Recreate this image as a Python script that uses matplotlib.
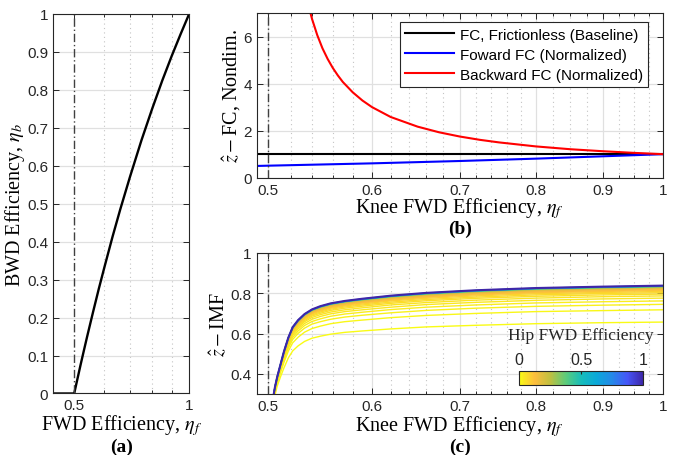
import numpy as np
import matplotlib
matplotlib.use("Agg")
import matplotlib.pyplot as plt
from matplotlib.colors import LinearSegmentedColormap, Normalize
from matplotlib.ticker import NullFormatter
import matplotlib.cm as cm

plt.rcParams["font.family"] = ["Liberation Sans", "DejaVu Sans"]
plt.rcParams["mathtext.fontset"] = "stix"

# --- data ---
cutoff_eta = 0.5

# (a) BWD efficiency vs FWD efficiency
fwd_eta_a = [0.44, 0.5, 0.51, 0.52, 0.53, 0.54, 0.56, 0.58, 0.6, 0.63, 0.66,
             0.7, 0.75, 0.8, 0.85, 0.9, 0.95, 1.0]
bwd_eta_a = [0.0, 0.0, 0.039, 0.077, 0.113, 0.148, 0.214, 0.276, 0.333, 0.413,
             0.485, 0.571, 0.667, 0.75, 0.824, 0.889, 0.947, 1.0]

# (b) force capacity
knee_eta_b = [0.49, 0.6, 0.7, 0.8, 0.9, 1.0]
fc_base = [1.0, 1.0, 1.0, 1.0, 1.0, 1.0]
fc_fwd = [0.50, 0.61, 0.71, 0.81, 0.91, 1.0]
knee_eta_red = [0.537, 0.54, 0.545, 0.55, 0.555, 0.56, 0.565, 0.57, 0.58, 0.59,
                0.6, 0.62, 0.65, 0.675, 0.7, 0.725, 0.75, 0.8, 0.85, 0.9, 0.95, 1.0]
fc_bwd = [7.26, 6.75, 6.06, 5.5, 5.05, 4.67, 4.35, 4.07, 3.63, 3.28,
          3.0, 2.58, 2.17, 1.93, 1.75, 1.61, 1.5, 1.33, 1.21, 1.125, 1.056, 1.0]

# (c) IMF, one row per hip FWD efficiency
knee_eta_c = [0.504, 0.506, 0.508, 0.511, 0.514, 0.518, 0.522, 0.527, 0.533, 0.54,
              0.548, 0.558, 0.572, 0.59, 0.62, 0.66, 0.72, 0.8, 0.9, 1.0]
hip_eta = [0.0, 0.01, 0.02, 0.03, 0.04, 0.05, 0.06, 0.07, 0.08, 0.1, 0.12,
           0.14, 0.16, 0.18, 0.2, 0.3, 0.4, 0.5, 0.6, 0.8, 1.0]
imf = [
    [0.210, 0.293, 0.339, 0.386, 0.429, 0.479, 0.514, 0.539, 0.561, 0.577, 0.587, 0.597, 0.606, 0.613, 0.623, 0.633, 0.641, 0.649, 0.654, 0.657],
    [0.230, 0.307, 0.355, 0.407, 0.456, 0.513, 0.554, 0.582, 0.607, 0.625, 0.637, 0.649, 0.659, 0.667, 0.679, 0.690, 0.700, 0.709, 0.714, 0.718],
    [0.239, 0.313, 0.361, 0.416, 0.468, 0.528, 0.571, 0.601, 0.627, 0.647, 0.659, 0.671, 0.682, 0.691, 0.703, 0.715, 0.726, 0.735, 0.741, 0.745],
    [0.245, 0.317, 0.366, 0.422, 0.476, 0.538, 0.582, 0.613, 0.640, 0.660, 0.673, 0.686, 0.697, 0.706, 0.719, 0.731, 0.742, 0.752, 0.758, 0.762],
    [0.249, 0.321, 0.369, 0.427, 0.482, 0.545, 0.592, 0.623, 0.650, 0.671, 0.685, 0.698, 0.709, 0.718, 0.731, 0.744, 0.755, 0.765, 0.772, 0.776],
    [0.253, 0.323, 0.372, 0.431, 0.487, 0.552, 0.599, 0.631, 0.659, 0.680, 0.694, 0.707, 0.718, 0.728, 0.742, 0.754, 0.766, 0.776, 0.783, 0.787],
    [0.256, 0.325, 0.374, 0.434, 0.491, 0.557, 0.605, 0.637, 0.665, 0.687, 0.701, 0.715, 0.726, 0.736, 0.750, 0.763, 0.775, 0.785, 0.792, 0.796],
    [0.258, 0.327, 0.376, 0.436, 0.494, 0.561, 0.609, 0.642, 0.671, 0.692, 0.707, 0.721, 0.732, 0.742, 0.756, 0.769, 0.781, 0.792, 0.799, 0.803],
    [0.260, 0.328, 0.378, 0.438, 0.497, 0.564, 0.613, 0.647, 0.675, 0.697, 0.712, 0.726, 0.737, 0.747, 0.762, 0.775, 0.787, 0.798, 0.804, 0.809],
    [0.262, 0.329, 0.379, 0.440, 0.499, 0.567, 0.616, 0.650, 0.679, 0.701, 0.716, 0.730, 0.741, 0.752, 0.766, 0.780, 0.792, 0.803, 0.809, 0.814],
    [0.263, 0.330, 0.380, 0.441, 0.501, 0.569, 0.619, 0.653, 0.682, 0.704, 0.720, 0.733, 0.745, 0.755, 0.770, 0.783, 0.796, 0.806, 0.813, 0.818],
    [0.265, 0.331, 0.381, 0.443, 0.503, 0.571, 0.622, 0.656, 0.685, 0.707, 0.723, 0.737, 0.748, 0.759, 0.774, 0.787, 0.800, 0.810, 0.817, 0.822],
    [0.266, 0.332, 0.382, 0.444, 0.504, 0.573, 0.624, 0.658, 0.687, 0.710, 0.725, 0.739, 0.751, 0.762, 0.776, 0.790, 0.803, 0.813, 0.820, 0.825],
    [0.267, 0.333, 0.382, 0.445, 0.506, 0.574, 0.626, 0.660, 0.690, 0.712, 0.728, 0.742, 0.753, 0.764, 0.779, 0.793, 0.805, 0.816, 0.823, 0.828],
    [0.267, 0.333, 0.383, 0.445, 0.506, 0.576, 0.627, 0.661, 0.691, 0.714, 0.729, 0.743, 0.755, 0.766, 0.781, 0.795, 0.807, 0.818, 0.825, 0.830],
    [0.268, 0.334, 0.384, 0.446, 0.507, 0.577, 0.628, 0.663, 0.692, 0.715, 0.731, 0.745, 0.757, 0.768, 0.783, 0.796, 0.809, 0.820, 0.827, 0.832],
    [0.269, 0.334, 0.384, 0.447, 0.508, 0.578, 0.629, 0.664, 0.694, 0.717, 0.733, 0.747, 0.759, 0.769, 0.784, 0.798, 0.811, 0.822, 0.829, 0.834],
    [0.269, 0.334, 0.384, 0.447, 0.509, 0.578, 0.630, 0.665, 0.695, 0.718, 0.733, 0.747, 0.759, 0.770, 0.785, 0.799, 0.812, 0.823, 0.830, 0.835],
    [0.269, 0.335, 0.384, 0.447, 0.509, 0.579, 0.631, 0.666, 0.695, 0.718, 0.734, 0.748, 0.760, 0.771, 0.786, 0.800, 0.813, 0.824, 0.831, 0.836],
    [0.270, 0.335, 0.385, 0.448, 0.510, 0.579, 0.631, 0.666, 0.696, 0.719, 0.735, 0.749, 0.761, 0.772, 0.787, 0.801, 0.814, 0.825, 0.832, 0.837],
    [0.270, 0.335, 0.385, 0.448, 0.510, 0.580, 0.632, 0.667, 0.697, 0.720, 0.736, 0.750, 0.762, 0.773, 0.788, 0.802, 0.815, 0.826, 0.833, 0.838],
]

knee_ticks = [0.5, 0.6, 0.7, 0.8, 0.9, 1.0]
knee_tick_labels = ["0.5", "0.6", "0.7", "0.8", "0.9", "1"]
knee_minor = [0.52, 0.54, 0.56, 0.58, 0.62, 0.64, 0.66, 0.68, 0.72, 0.74, 0.76,
              0.78, 0.825, 0.85, 0.875, 0.925, 0.95, 0.975]

# reversed parula-like colormap (yellow -> dark blue)
parula_r = LinearSegmentedColormap.from_list("parula_r", [
    (0.976, 0.984, 0.081), (0.990, 0.740, 0.240), (0.750, 0.750, 0.250),
    (0.360, 0.800, 0.480), (0.090, 0.740, 0.730), (0.040, 0.660, 0.850),
    (0.144, 0.535, 0.907), (0.272, 0.337, 0.974), (0.242, 0.150, 0.660)])

DARK = "#262626"
SERIF = ["Liberation Serif", "DejaVu Serif"]


def style(ax):
    ax.set_axisbelow(True)
    ax.tick_params(which="both", direction="in", top=True, right=True,
                   color=DARK, labelcolor=DARK, labelsize=11, width=0.7)
    ax.tick_params(which="major", length=4)
    ax.tick_params(which="minor", length=2)
    for s in ax.spines.values():
        s.set_color(DARK)
        s.set_linewidth(0.8)


fig = plt.figure(figsize=(6.81, 4.56), dpi=100)
ax_a = fig.add_axes([0.0778, 0.1349, 0.2001, 0.8329])
ax_b = fig.add_axes([0.3769, 0.6081, 0.5966, 0.3612])
ax_c = fig.add_axes([0.3769, 0.1338, 0.5966, 0.3092])

# --- (a) ---
ax_a.plot(fwd_eta_a, bwd_eta_a, color="black", lw=1.7)
ax_a.axvline(cutoff_eta, color="#404040", lw=1.0, ls=(0, (6, 2, 1, 2)))
ax_a.set_xscale("log")
ax_a.set_xlim(0.44, 1.0)
ax_a.set_ylim(0, 1)
ax_a.set_xticks([0.5, 1.0], labels=["0.5", "1"])
ax_a.set_xticks([0.6, 0.7, 0.8, 0.9], minor=True)
ax_a.xaxis.set_minor_formatter(NullFormatter())
ax_a.set_yticks(np.arange(0, 1.01, 0.1), labels=["0", "0.1", "0.2", "0.3", "0.4", "0.5",
                                                 "0.6", "0.7", "0.8", "0.9", "1"])
ax_a.grid(which="major", axis="y", color="#e0e0e0", lw=0.9)
ax_a.grid(which="minor", axis="x", color="#c4c4c4", lw=0.8, ls=(0, (1, 3)))
style(ax_a)
ax_a.set_xlabel(r"FWD Efficiency, $\eta_f$", family=SERIF, fontsize=14.5, labelpad=0)
ax_a.set_ylabel(r"BWD Efficiency, $\eta_b$", family=SERIF, fontsize=14.5, labelpad=0)

# --- (b) ---
ax_b.plot(knee_eta_b, fc_base, color="black", lw=1.5, label="FC, Frictionless (Baseline)")
ax_b.plot(knee_eta_b, fc_fwd, color="#0000ff", lw=1.5, label="Foward FC (Normalized)")
ax_b.plot(knee_eta_red, fc_bwd, color="#ff0000", lw=1.5, label="Backward FC (Normalized)")
ax_b.axvline(cutoff_eta, color="#404040", lw=1.0, ls=(0, (6, 2, 1, 2)))
ax_b.set_xscale("log")
ax_b.set_xlim(0.49, 1.0)
ax_b.set_ylim(0, 7)
ax_b.set_yticks([0, 2, 4, 6])
ax_b.set_xticks(knee_ticks, labels=knee_tick_labels)
ax_b.set_xticks(knee_minor, minor=True)
ax_b.xaxis.set_minor_formatter(NullFormatter())
ax_b.grid(which="major", color="#e0e0e0", lw=0.9)
ax_b.grid(which="minor", axis="x", color="#c4c4c4", lw=0.8, ls=(0, (1, 3)))
style(ax_b)
ax_b.set_xlabel(r"Knee FWD Efficiency, $\eta_f$", family=SERIF, fontsize=14.5, labelpad=-1)
ax_b.set_ylabel(r"$\hat{z}-$FC, Nondim.", family=SERIF, fontsize=14.5, labelpad=1)
leg = ax_b.legend(loc="upper right", bbox_to_anchor=(0.964, 0.944), borderaxespad=0,
                  fancybox=False, edgecolor=DARK, framealpha=1, fontsize=11,
                  handlelength=3.2, handletextpad=0.4, borderpad=0.35, labelspacing=0.4)
leg.get_frame().set_linewidth(0.8)

# --- (c) ---
norm = Normalize(0, 1)
for h, row in zip(hip_eta, imf):
    ax_c.plot(knee_eta_c, row, color=parula_r(norm(h)), lw=1.5 if h == 1.0 else 1.0)
ax_c.axvline(cutoff_eta, color="#404040", lw=1.0, ls=(0, (6, 2, 1, 2)))
ax_c.set_xscale("log")
ax_c.set_xlim(0.49, 1.0)
ax_c.set_ylim(0.3, 1.0)
ax_c.set_yticks([0.4, 0.6, 0.8, 1.0], labels=["0.4", "0.6", "0.8", "1"])
ax_c.set_xticks(knee_ticks, labels=knee_tick_labels)
ax_c.set_xticks(knee_minor, minor=True)
ax_c.xaxis.set_minor_formatter(NullFormatter())
ax_c.grid(which="major", color="#e0e0e0", lw=0.9)
ax_c.grid(which="minor", axis="x", color="#c4c4c4", lw=0.8, ls=(0, (1, 3)))
style(ax_c)
ax_c.set_xlabel(r"Knee FWD Efficiency, $\eta_f$", family=SERIF, fontsize=14.5, labelpad=0)
ax_c.set_ylabel(r"$\hat{z}-$IMF", family=SERIF, fontsize=14.5, labelpad=1)

cax = ax_c.inset_axes([0.646, 0.064, 0.305, 0.101])
sm = cm.ScalarMappable(norm=norm, cmap=parula_r)
cb = fig.colorbar(sm, cax=cax, orientation="horizontal", ticks=[0, 0.5, 1])
cb.ax.xaxis.set_ticks_position("top")
cb.ax.xaxis.set_label_position("top")
cb.ax.set_xticklabels(["0", "0.5", "1"])
cb.ax.tick_params(direction="in", length=2, labelsize=11.5, color=DARK, labelcolor=DARK, pad=3)
cb.outline.set_edgecolor(DARK)
cb.outline.set_linewidth(0.8)
cb.set_label("Hip FWD Efficiency", family=SERIF, fontsize=12.5, color=DARK, labelpad=9)

# subcaptions
fig.text(0.178, 0.020, "(a)", family=SERIF, fontsize=14, fontweight="bold", ha="center", va="center")
fig.text(0.675, 0.497, "(b)", family=SERIF, fontsize=14, fontweight="bold", ha="center", va="center")
fig.text(0.675, 0.020, "(c)", family=SERIF, fontsize=14, fontweight="bold", ha="center", va="center")

fig.savefig("out.png", dpi=100)
